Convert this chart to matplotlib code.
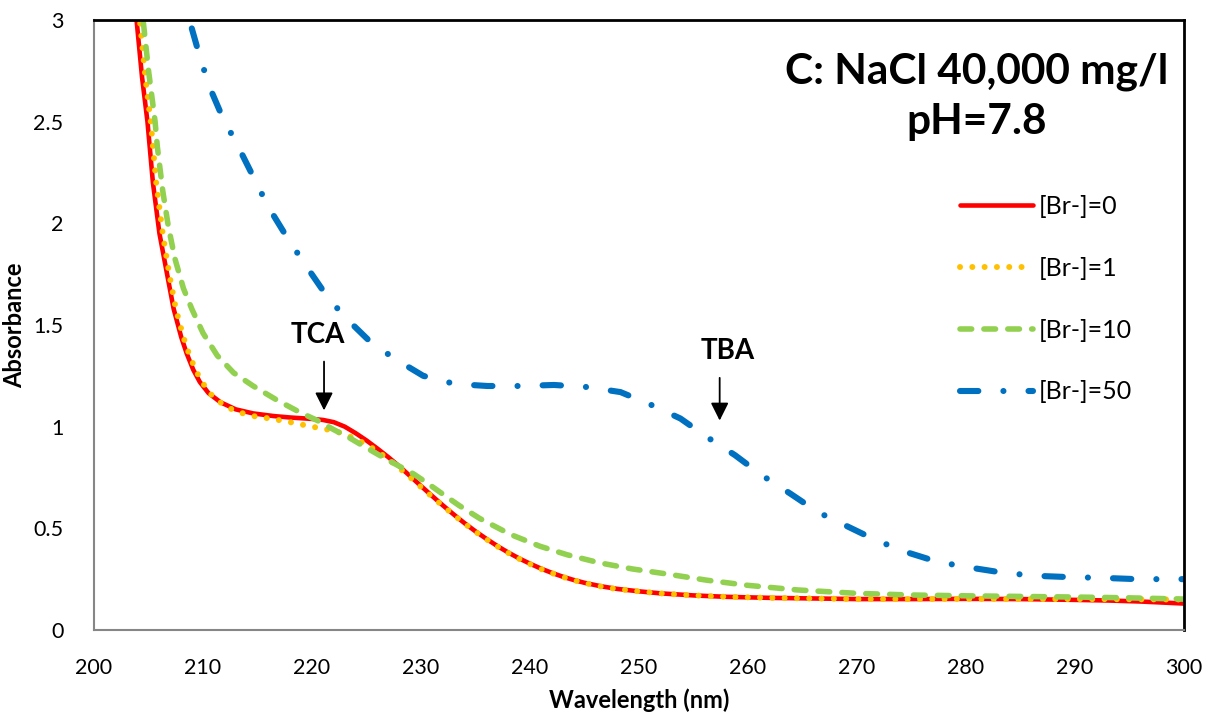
import matplotlib
matplotlib.use("Agg")
import matplotlib.pyplot as plt

plt.rcParams["font.family"] = ["Lato", "DejaVu Sans"]

# [Br-]=0
wl_br0 = [203.5, 203.9, 204.4, 204.9, 205.4, 206.0, 206.7, 207.3, 208.0, 208.5,
          209.1, 209.7, 210.5, 211.6, 213.0, 214.6, 216.5, 218.0, 220.0, 221.0,
          222.0, 223.0, 224.0, 225.0, 226.0, 227.0, 228.0, 229.0, 230.0, 231.0,
          232.0, 233.0, 234.0, 235.0, 236.0, 237.0, 238.0, 239.0, 240.0, 241.0,
          242.0, 243.0, 244.0, 245.0, 246.5, 248.0, 250.0, 252.0, 255.0, 258.0,
          262.0, 266.0, 270.0, 275.0, 280.0, 285.0, 290.0, 293.0, 296.0, 300.0]
abs_br0 = [3.25, 3.0, 2.72, 2.5, 2.2, 1.95, 1.75, 1.58, 1.44, 1.36,
           1.28, 1.22, 1.165, 1.12, 1.085, 1.065, 1.052, 1.045, 1.038, 1.033,
           1.022, 1.0, 0.968, 0.932, 0.892, 0.85, 0.805, 0.757, 0.708, 0.66,
           0.613, 0.568, 0.525, 0.485, 0.448, 0.413, 0.381, 0.352, 0.326, 0.302,
           0.281, 0.262, 0.246, 0.232, 0.215, 0.202, 0.19, 0.18, 0.17, 0.163,
           0.158, 0.155, 0.152, 0.152, 0.153, 0.152, 0.148, 0.145, 0.14, 0.13]

# [Br-]=1
wl_br1 = [203.8, 204.2, 204.7, 205.2, 205.7, 206.3, 206.9, 207.5, 208.2, 208.7,
          209.3, 209.9, 210.7, 211.8, 213.0, 214.6, 216.5, 218.0, 220.0, 221.0,
          222.0, 223.0, 224.0, 225.0, 226.0, 227.0, 228.0, 229.0, 230.0, 231.0,
          232.0, 233.0, 234.0, 235.0, 236.0, 237.0, 238.0, 239.0, 240.0, 241.0,
          242.0, 243.0, 244.0, 245.0, 246.5, 248.0, 250.0, 252.0, 255.0, 258.0,
          262.0, 266.0, 270.0, 275.0, 280.0, 285.0, 290.0, 295.0, 300.0]
abs_br1 = [3.25, 3.0, 2.72, 2.5, 2.2, 1.95, 1.75, 1.58, 1.44, 1.36,
           1.28, 1.22, 1.16, 1.11, 1.075, 1.052, 1.037, 1.022, 1.0, 0.99,
           0.98, 0.963, 0.94, 0.912, 0.879, 0.84, 0.797, 0.751, 0.703, 0.656,
           0.61, 0.566, 0.523, 0.483, 0.446, 0.411, 0.379, 0.35, 0.324, 0.30,
           0.28, 0.261, 0.245, 0.231, 0.214, 0.201, 0.19, 0.18, 0.17, 0.163,
           0.158, 0.155, 0.152, 0.152, 0.153, 0.152, 0.152, 0.151, 0.15]

# [Br-]=10
wl_br10 = [204.2, 204.5, 205.0, 205.6, 205.8, 206.3, 206.8, 207.4, 208.2, 209.0,
           210.0, 211.3, 212.8, 214.6, 216.8, 218.9, 220.5, 222.0, 223.5, 224.7,
           226.0, 227.5, 229.3, 230.5, 232.0, 233.5, 235.4, 238.2, 240.9, 243.4,
           246.4, 249.4, 252.6, 256.2, 259.9, 264.5, 270.0, 275.0, 280.0, 285.0,
           290.0, 295.0, 300.0]
abs_br10 = [3.2, 3.0, 2.75, 2.5, 2.38, 2.16, 1.99, 1.83, 1.68, 1.575,
            1.46, 1.35, 1.265, 1.20, 1.13, 1.07, 1.03, 0.985, 0.943, 0.905,
            0.865, 0.82, 0.768, 0.725, 0.668, 0.612, 0.548, 0.47, 0.412, 0.37,
            0.33, 0.30, 0.275, 0.245, 0.22, 0.197, 0.18, 0.172, 0.168, 0.165,
            0.162, 0.158, 0.152]

# [Br-]=50
wl_br50 = [208.3, 208.8, 209.7, 210.6, 211.8, 213.2, 214.6, 216.0, 217.6, 219.2,
           221.0, 222.8, 225.1, 227.4, 230.2, 233.1, 236.1, 239.1, 242.2, 245.2,
           248.3, 251.0, 253.8, 256.2, 258.8, 261.3, 263.9, 266.4, 269.1, 271.8,
           274.7, 277.4, 280.6, 283.6, 286.6, 289.5, 292.7, 295.7, 300.0]
abs_br50 = [3.15, 2.99, 2.82, 2.67, 2.52, 2.38, 2.23, 2.08, 1.94, 1.81,
            1.67, 1.55, 1.43, 1.34, 1.25, 1.21, 1.20, 1.20, 1.205, 1.195,
            1.17, 1.11, 1.04, 0.95, 0.86, 0.76, 0.67, 0.58, 0.51, 0.44,
            0.38, 0.335, 0.305, 0.28, 0.266, 0.26, 0.256, 0.25, 0.25]

x_ticks = [200, 210, 220, 230, 240, 250, 260, 270, 280, 290, 300]
y_ticks = [0, 0.5, 1, 1.5, 2, 2.5, 3]

fig = plt.figure(figsize=(12.09, 7.12), dpi=100)
ax = fig.add_axes([0.0778, 0.1152, 0.9015, 0.8567])

blue_dash = (3.0, 4.1, 0.01, 4.1)

ax.plot(wl_br0, abs_br0, color="#ff0000", lw=3.3, solid_capstyle="round",
        solid_joinstyle="round", label="[Br-]=0")
ax.plot(wl_br1, abs_br1, color="#ffc000", lw=4.3, dash_capstyle="round",
        linestyle=(0, (0.01, 2.05)), label="[Br-]=1")
ax.plot(wl_br10, abs_br10, color="#92d050", lw=4.0, dash_capstyle="round",
        linestyle=(0, (2.1, 2.2)), label="[Br-]=10")
ax.plot(wl_br50, abs_br50, color="#0070c0", lw=4.4, dash_capstyle="round",
        linestyle=(6.3, blue_dash), label="[Br-]=50")

ax.set_xlim(200, 300)
ax.set_ylim(0, 3)
ax.set_xticks(x_ticks)
ax.set_yticks(y_ticks)
ax.set_yticklabels([f"{v:g}" for v in y_ticks])
ax.tick_params(length=0, labelsize=15.5)
ax.tick_params(axis="x", pad=20)
ax.tick_params(axis="y", pad=22)

for side in ("left", "bottom"):
    ax.spines[side].set_color("#868686")
    ax.spines[side].set_linewidth(1.5)
for side in ("top", "right"):
    ax.spines[side].set_color("black")
    ax.spines[side].set_linewidth(2)

ax.set_xlabel("Wavelength (nm)", fontsize=17, fontweight="bold", labelpad=8)
ax.set_ylabel("Absorbance", fontsize=17, fontweight="bold", labelpad=5)

arrow = dict(arrowstyle="-|>,head_length=0.4,head_width=0.2", color="black",
             lw=1.3, mutation_scale=27, shrinkA=0, shrinkB=0)
ax.annotate("", xy=(221.1, 1.08), xytext=(221.1, 1.32), arrowprops=arrow)
ax.annotate("", xy=(257.4, 1.03), xytext=(257.4, 1.24), arrowprops=arrow)
ax.text(220.5, 1.45, "TCA", fontsize=20, fontweight="bold", ha="center", va="center")
ax.text(258.1, 1.37, "TBA", fontsize=20, fontweight="bold", ha="center", va="center")

fig.text(0.808, 0.864, "C: NaCl 40,000 mg/l\npH=7.8", fontsize=30.5,
         fontweight="bold", ha="center", va="center", linespacing=1.4)

leg = ax.legend(loc="upper left", bbox_to_anchor=(960 / 1209, 1 - 195 / 712),
                bbox_transform=fig.transFigure, frameon=False, fontsize=18,
                handlelength=2.9, handletextpad=0.25, labelspacing=1.55,
                borderpad=0, borderaxespad=0)
leg.get_lines()[3].set_linestyle((0, blue_dash))

fig.savefig("out.png", dpi=100)
